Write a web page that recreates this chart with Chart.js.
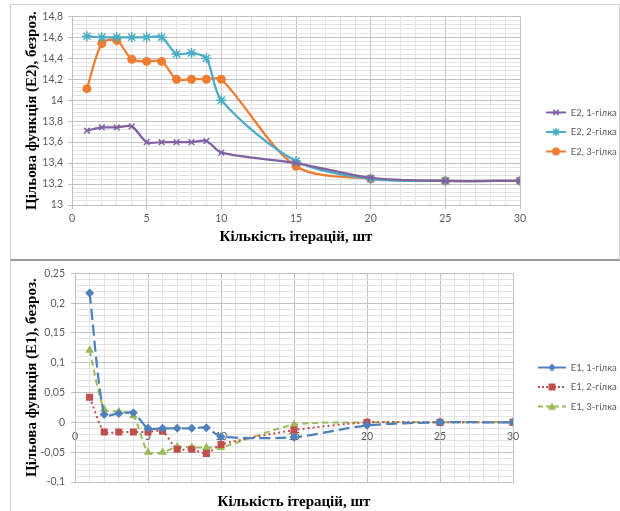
<!DOCTYPE html>
<html>
<head>
<meta charset="utf-8">
<script src="https://cdn.jsdelivr.net/npm/chart.js@4"></script>
<style>
body { margin: 0; background: #fff; width: 620px; height: 511px; position: relative; overflow: hidden; }
.frame { position: absolute; box-sizing: border-box; }
#f1 { left: 10px; top: 4px; width: 610px; height: 257px; border: 1px solid #cfcfcf; border-bottom: 2px solid #9c9c9c; }
#f2 { left: 10px; top: 261px; width: 610px; height: 250px; border-left: 1px solid #cfcfcf; }
.box { position: absolute; left: 0; top: 0; width: 607px; }
#f1 .box { height: 254px; }
#f2 .box { height: 250px; }
</style>
</head>
<body>
<div class="frame" id="f1"><div class="box"><canvas id="chartE2"></canvas></div></div>
<div class="frame" id="f2"><div class="box"><canvas id="chartE1"></canvas></div></div>
<script>
Chart.defaults.font.family = 'Lato';
Chart.defaults.font.size = 10.5;
Chart.defaults.color = '#595959';

// iterations on the x axis
var iterations = [1, 2, 3, 4, 5, 6, 7, 8, 9, 10, 15, 20, 25, 30];

// E2 values (top chart)
var e2Branch1 = [13.71, 13.74, 13.74, 13.75, 13.60, 13.60, 13.60, 13.60, 13.61, 13.50, 13.40, 13.26, 13.23, 13.23];
var e2Branch2 = [14.61, 14.60, 14.60, 14.60, 14.60, 14.60, 14.44, 14.45, 14.40, 14.00, 13.42, 13.25, 13.23, 13.23];
var e2Branch3 = [14.11, 14.54, 14.57, 14.39, 14.37, 14.37, 14.20, 14.20, 14.20, 14.20, 13.37, 13.25, 13.23, 13.23];

// E1 values (bottom chart)
var e1Branch1 = [0.217, 0.013, 0.015, 0.016, -0.010, -0.010, -0.010, -0.010, -0.009, -0.024, -0.025, -0.005, 0, 0];
var e1Branch2 = [0.042, -0.016, -0.016, -0.016, -0.016, -0.015, -0.045, -0.045, -0.052, -0.037, -0.013, 0, 0, 0];
var e1Branch3 = [0.121, 0.022, 0.018, 0.011, -0.050, -0.050, -0.041, -0.042, -0.042, -0.042, -0.004, 0, 0, 0];

var e2Names = ['E2, 1-гілка', 'E2, 2-гілка', 'E2, 3-гілка'];
var e1Names = ['E1, 1-гілка', 'E1, 2-гілка', 'E1, 3-гілка'];

// labelled ticks
var xTicks = [0, 5, 10, 15, 20, 25, 30];
var e2Ticks = [13, 13.2, 13.4, 13.6, 13.8, 14, 14.2, 14.4, 14.6, 14.8];
var e1Ticks = [-0.1, -0.05, 0, 0.05, 0.1, 0.15, 0.2, 0.25];

function toPoints(ys) {
    return iterations.map(function (x, i) { return { x: x, y: ys[i] }; });
}

function fmt(v) {
    return String(v).replace('.', ',');
}

function isMajor(v, list) {
    return list.some(function (m) { return Math.abs(m - v) < 1e-6; });
}

// every minor grid step between the first and last labelled tick
function gridSteps(list, step) {
    var min = list[0], max = list[list.length - 1];
    var n = Math.round((max - min) / step);
    var out = [];
    for (var i = 0; i <= n; i++) out.push({ value: +(min + i * step).toFixed(4) });
    return out;
}

function gridColor(list) {
    return function (c) { return c.tick && isMajor(c.tick.value, list) ? '#c2c2c2' : '#e4e4e4'; };
}
function tickColor(list) {
    return function (c) { return c.tick && isMajor(c.tick.value, list) ? '#bfbfbf' : 'rgba(0,0,0,0)'; };
}

var titleFont = { family: 'Liberation Serif', weight: 'bold', size: 15 };

// small line + marker pictures for the legend
function drawMarker(g, type, x, y, r, color) {
    g.fillStyle = color;
    g.strokeStyle = color;
    g.lineWidth = 1.5;
    g.beginPath();
    if (type === 'circle') {
        g.arc(x, y, r, 0, Math.PI * 2); g.fill();
    } else if (type === 'rect') {
        g.fillRect(x - r, y - r, 2 * r, 2 * r);
    } else if (type === 'rectRot') {
        g.moveTo(x, y - r); g.lineTo(x + r, y); g.lineTo(x, y + r); g.lineTo(x - r, y); g.closePath(); g.fill();
    } else if (type === 'triangle') {
        g.moveTo(x, y - r); g.lineTo(x + r, y + r * 0.8); g.lineTo(x - r, y + r * 0.8); g.closePath(); g.fill();
    } else {
        var d = r * 0.75;
        g.moveTo(x - d, y - d); g.lineTo(x + d, y + d);
        g.moveTo(x + d, y - d); g.lineTo(x - d, y + d);
        if (type === 'star') { g.moveTo(x, y - r); g.lineTo(x, y + r); }
        g.stroke();
    }
}

// width = whole picture, start = where the line sample begins inside it
function legendIcon(color, dash, marker, r, width, start) {
    var c = document.createElement('canvas');
    c.width = width; c.height = 12;
    var g = c.getContext('2d');
    g.strokeStyle = color;
    g.lineWidth = 2;
    g.setLineDash(dash);
    g.beginPath(); g.moveTo(start, 6); g.lineTo(width, 6); g.stroke();
    g.setLineDash([]);
    drawMarker(g, marker, (start + width) / 2, 6, r, color);
    return c;
}

function legendOptions(icons, boxWidth) {
    return {
        position: 'right',
        maxWidth: boxWidth,
        labels: {
            usePointStyle: true,
            pointStyleWidth: icons[0].width,
            boxHeight: 10,
            padding: 10,
            color: '#595959',
            font: { size: 9.5 },
            generateLabels: function (chart) {
                return Chart.defaults.plugins.legend.labels.generateLabels(chart).map(function (l, i) {
                    l.pointStyle = icons[i];
                    return l;
                });
            }
        }
    };
}

var purple = '#7f62a1', teal = '#4bacc6', orange = '#ee7d31';
var blue = '#4f81bd', red = '#c0504d', green = '#9bbb59';

new Chart(document.getElementById('chartE2'), {
    type: 'line',
    data: {
        datasets: [
            { label: e2Names[0], data: toPoints(e2Branch1), borderColor: purple, backgroundColor: purple,
              borderWidth: 2.25, pointStyle: 'crossRot', pointRadius: 4, pointBorderWidth: 1.5, tension: 0.3 },
            { label: e2Names[1], data: toPoints(e2Branch2), borderColor: teal, backgroundColor: teal,
              borderWidth: 2.25, pointStyle: 'star', pointRadius: 5, pointBorderWidth: 1.5, tension: 0.3 },
            { label: e2Names[2], data: toPoints(e2Branch3), borderColor: orange, backgroundColor: orange,
              borderWidth: 2.25, pointStyle: 'circle', pointRadius: 4.5, pointBorderWidth: 0, tension: 0.3 }
        ]
    },
    options: {
        responsive: true,
        maintainAspectRatio: false,
        animation: false,
        // equal top/bottom padding keeps the legend centred like the original
        layout: { padding: { top: 11, right: 0, left: 0, bottom: 11 } },
        plugins: {
            legend: legendOptions([
                legendIcon(purple, [], 'crossRot', 3.5, 36, 16),
                legendIcon(teal, [], 'star', 4, 36, 16),
                legendIcon(orange, [], 'circle', 4, 36, 16)
            ], 98),
            tooltip: { enabled: false }
        },
        scales: {
            x: {
                type: 'linear', min: 0, max: 30,
                afterBuildTicks: function (s) { s.ticks = gridSteps(xTicks, 1); },
                afterFit: function (s) { s.height = 43; },
                ticks: { autoSkip: false, maxRotation: 0, padding: 3,
                         callback: function (v) { return isMajor(v, xTicks) ? fmt(v) : ''; } },
                grid: { color: gridColor(xTicks), tickColor: tickColor(xTicks), tickLength: 4 },
                border: { color: '#bfbfbf' },
                title: { display: true, text: 'Кількість ітерацій, шт', color: '#000', font: titleFont,
                         padding: { top: 0, bottom: 2 } }
            },
            y: {
                type: 'linear', min: 13, max: 14.8,
                afterBuildTicks: function (s) { s.ticks = gridSteps(e2Ticks, 0.04); },
                afterFit: function (s) { s.width = 61; },
                ticks: { autoSkip: false, padding: 5,
                         callback: function (v) { return isMajor(v, e2Ticks) ? fmt(v) : ''; } },
                grid: { color: gridColor(e2Ticks), tickColor: tickColor(e2Ticks), tickLength: 4 },
                border: { color: '#bfbfbf' },
                title: { display: true, text: 'Цільова функція (E2), безроз.', color: '#000', font: titleFont,
                         padding: { top: 12, bottom: 0 } }
            }
        }
    }
});

new Chart(document.getElementById('chartE1'), {
    type: 'line',
    data: {
        datasets: [
            { label: e1Names[0], data: toPoints(e1Branch1), borderColor: blue, backgroundColor: blue,
              borderWidth: 2.25, borderDash: [11, 5], pointStyle: 'rectRot', pointRadius: 4.5, pointBorderWidth: 0, tension: 0.25 },
            { label: e1Names[1], data: toPoints(e1Branch2), borderColor: red, backgroundColor: red,
              borderWidth: 2, borderDash: [2, 3], pointStyle: 'rect', pointRadius: 5, pointBorderWidth: 0, tension: 0.25 },
            { label: e1Names[2], data: toPoints(e1Branch3), borderColor: green, backgroundColor: green,
              borderWidth: 2, borderDash: [6, 4], pointStyle: 'triangle', pointRadius: 5, pointBorderWidth: 0, tension: 0.25 }
        ]
    },
    options: {
        responsive: true,
        maintainAspectRatio: false,
        animation: false,
        layout: { padding: { top: 11, right: 0, left: 0, bottom: 9 } },
        plugins: {
            legend: legendOptions([
                legendIcon(blue, [12, 5], 'rectRot', 4, 43, 15),
                legendIcon(red, [2, 2], 'rect', 3.5, 43, 15),
                legendIcon(green, [5, 3], 'triangle', 4, 43, 15)
            ], 105),
            tooltip: { enabled: false }
        },
        scales: {
            x: {
                type: 'linear', min: 0, max: 30,
                position: { y: 0 },
                afterBuildTicks: function (s) { s.ticks = gridSteps(xTicks, 1); },
                ticks: { autoSkip: false, maxRotation: 0, padding: 8,
                         callback: function (v) { return isMajor(v, xTicks) ? fmt(v) : ''; } },
                grid: { display: false, drawTicks: false },
                border: { display: false }
            },
            x2: {
                type: 'linear', position: 'bottom', min: 0, max: 30,
                afterBuildTicks: function (s) { s.ticks = gridSteps(xTicks, 1); },
                afterFit: function (s) { s.height = 20; },
                ticks: { display: false },
                grid: { color: gridColor(xTicks), drawTicks: false },
                border: { color: '#bfbfbf' },
                title: { display: true, text: 'Кількість ітерацій, шт', color: '#000', font: titleFont,
                         padding: { top: 0, bottom: -9 } }
            },
            y: {
                type: 'linear', min: -0.1, max: 0.25,
                afterBuildTicks: function (s) { s.ticks = gridSteps(e1Ticks, 0.01); },
                afterFit: function (s) { s.width = 64; },
                ticks: { autoSkip: false, padding: 6,
                         callback: function (v) { return isMajor(v, e1Ticks) ? fmt(v) : ''; } },
                grid: { color: gridColor(e1Ticks), tickColor: tickColor(e1Ticks), tickLength: 4 },
                border: { color: '#bfbfbf' },
                title: { display: true, text: 'Цільова функція (E1), безроз.', color: '#000', font: titleFont,
                         padding: { top: 12, bottom: 0 } }
            }
        }
    }
});
</script>
</body>
</html>
